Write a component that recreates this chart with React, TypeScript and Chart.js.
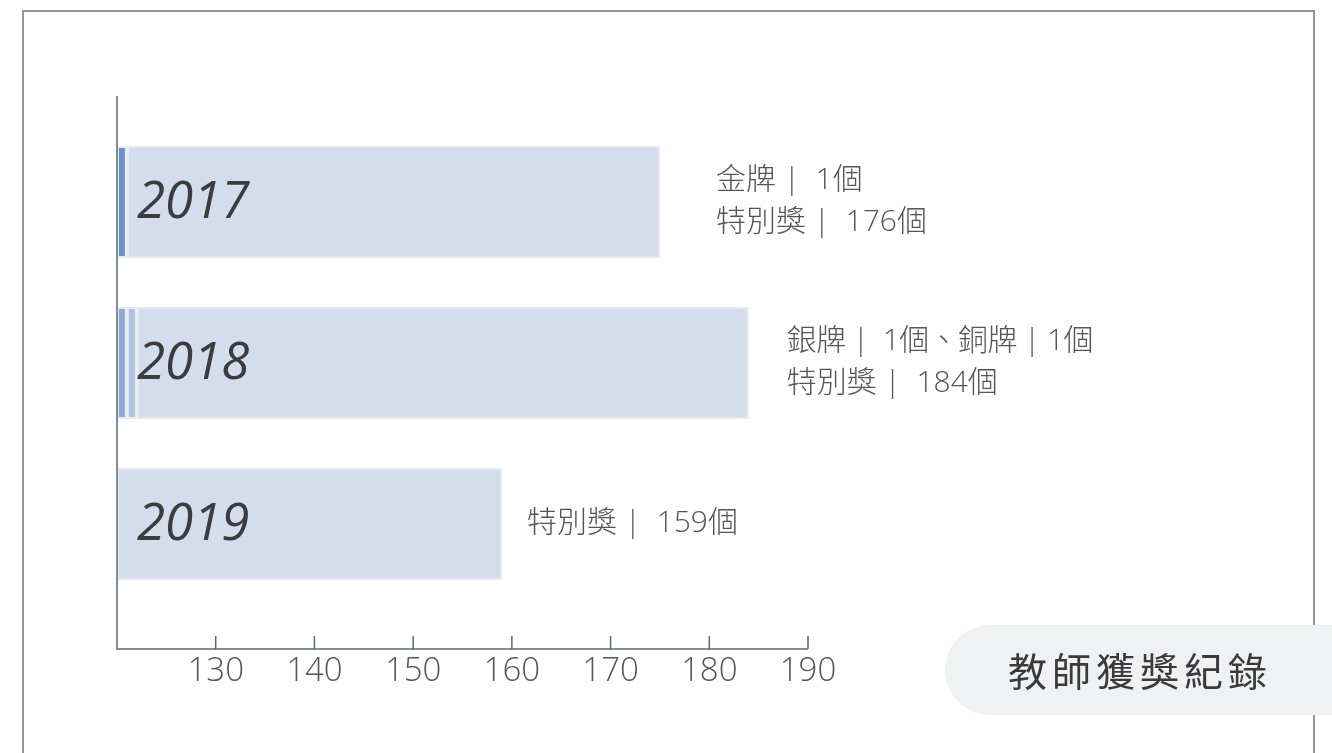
import React, { useEffect, useRef } from 'react';
import { Chart, registerables } from 'chart.js';

Chart.register(...registerables);

// ---- data ----
const years = ['2017', '2018', '2019'];
const axisMin = 120;
const axisMax = 190;
const axisStep = 10;
const goldBars = [[120, 121], null, null];
const silverBars = [null, [120, 121], null];
const bronzeBars = [null, [121, 122], null];
const specialBars = [[121, 175], [122, 184], [120, 159]];
const noteLines = [
  ['金牌 |  1個', '特別獎 |  176個'],
  ['銀牌 |  1個、銅牌 | 1個', '特別獎 |  184個'],
  ['特別獎 |  159個'],
];
const badgeTitle = '教師獲獎紀錄';

// ---- style ----
const noteOffsets = [56, 38, 25];
const W = 1332;
const H = 753;
const AXIS_COLOR = '#5d6a72';

const overlayPlugin = {
  id: 'overlay',
  afterDraw(chart: any) {
    const ctx = chart.ctx;
    const xs = chart.scales.x;
    const ys = chart.scales.y;
    const x0 = xs.getPixelForValue(axisMin);
    const x1 = xs.getPixelForValue(axisMax);
    const axisY = 649;
    ctx.save();
    // axes
    ctx.strokeStyle = AXIS_COLOR;
    ctx.lineWidth = 1.5;
    ctx.beginPath();
    ctx.moveTo(x0, 96);
    ctx.lineTo(x0, axisY);
    ctx.lineTo(x1, axisY);
    ctx.stroke();
    // ticks & labels
    ctx.font = '300 33px "Open Sans", "Noto Sans", sans-serif';
    ctx.fillStyle = '#555555';
    ctx.textAlign = 'center';
    ctx.textBaseline = 'middle';
    xs.ticks.forEach((t: any) => {
      if (t.value <= axisMin) return;
      const px = xs.getPixelForValue(t.value);
      ctx.beginPath();
      ctx.moveTo(px, axisY);
      ctx.lineTo(px, axisY - 13);
      ctx.stroke();
      ctx.fillText(String(t.value), px, axisY + 23);
    });
    // year labels inside bars
    ctx.font = 'italic 51px "Open Sans", "Noto Sans", sans-serif';
    ctx.fillStyle = '#3c3c3c';
    ctx.textAlign = 'left';
    years.forEach((y, i) => {
      const py = ys.getPixelForValue(i);
      ctx.fillText(y, x0 + 20, py + 1);
    });
    // notes to the right of bars
    ctx.font = '300 30px "Open Sans", "Noto Sans CJK TC", sans-serif';
    ctx.fillStyle = '#555555';
    noteLines.forEach((lines, i) => {
      const end = specialBars[i][1];
      const px = xs.getPixelForValue(end) + noteOffsets[i];
      const py = ys.getPixelForValue(i);
      const n = lines.length;
      lines.forEach((ln, j) => {
        const dy = (j - (n - 1) / 2) * 42;
        ctx.save();
        if (ln.indexOf('、') >= 0) {
          ctx.letterSpacing = '-0.6px';
        }
        ctx.fillText(ln, px, py + dy - 1);
        ctx.restore();
      });
    });
    ctx.restore();
  },
};

export default function App() {
  const ref = useRef<HTMLCanvasElement | null>(null);
  useEffect(() => {
    if (!ref.current) return;
    const ds = (label: string, data: any[], color: string) => ({
      label,
      data,
      backgroundColor: color,
      borderColor: '#e3ebee',
      borderWidth: 2,
      borderSkipped: false,
      categoryPercentage: 1,
      barPercentage: 0.696,
    });
    const chart = new Chart(ref.current, {
      type: 'bar',
      data: {
        labels: years,
        datasets: [
          ds('金牌', goldBars, '#6b8fcd'),
          ds('銀牌', silverBars, '#8ea9d9'),
          ds('銅牌', bronzeBars, '#afc2e5'),
          ds('特別獎', specialBars, '#d3ddee'),
        ],
      },
      options: {
        indexAxis: 'y',
        animation: false,
        responsive: false,
        maintainAspectRatio: false,
        layout: { padding: { left: 117, right: W - 808, top: 121.5, bottom: H - 604.5 } },
        plugins: { legend: { display: false }, tooltip: { enabled: false } },
        scales: {
          x: { display: false, min: axisMin, max: axisMax, ticks: { stepSize: axisStep } },
          y: { display: false, stacked: true },
        },
      },
      plugins: [overlayPlugin],
    } as any);
    return () => chart.destroy();
  }, []);

  return (
    <div style={{ position: 'fixed', left: 0, top: 0, width: W, height: H, overflow: 'hidden', background: '#ffffff' }}>
      <div
        style={{
          position: 'absolute',
          left: 22,
          top: 10,
          width: 1289,
          height: 800,
          border: '2px solid #8d979d',
          boxSizing: 'content-box',
        }}
      />
      <canvas ref={ref} width={W} height={H} style={{ position: 'absolute', left: 0, top: 0, width: W, height: H }} />
      <div
        style={{
          position: 'absolute',
          left: 945,
          top: 625,
          width: 420,
          height: 90,
          borderRadius: '45px 0 0 45px',
          background: '#f0f1f3',
        }}
      />
      <div
        style={{
          position: 'absolute',
          left: 945,
          top: 624,
          width: 390,
          height: 90,
          lineHeight: '90px',
          textAlign: 'center',
          fontFamily: '"Noto Sans CJK TC", sans-serif',
          fontSize: 39,
          letterSpacing: 5,
          color: '#3a3a3a',
        }}
      >
        {badgeTitle}
      </div>
    </div>
  );
}
